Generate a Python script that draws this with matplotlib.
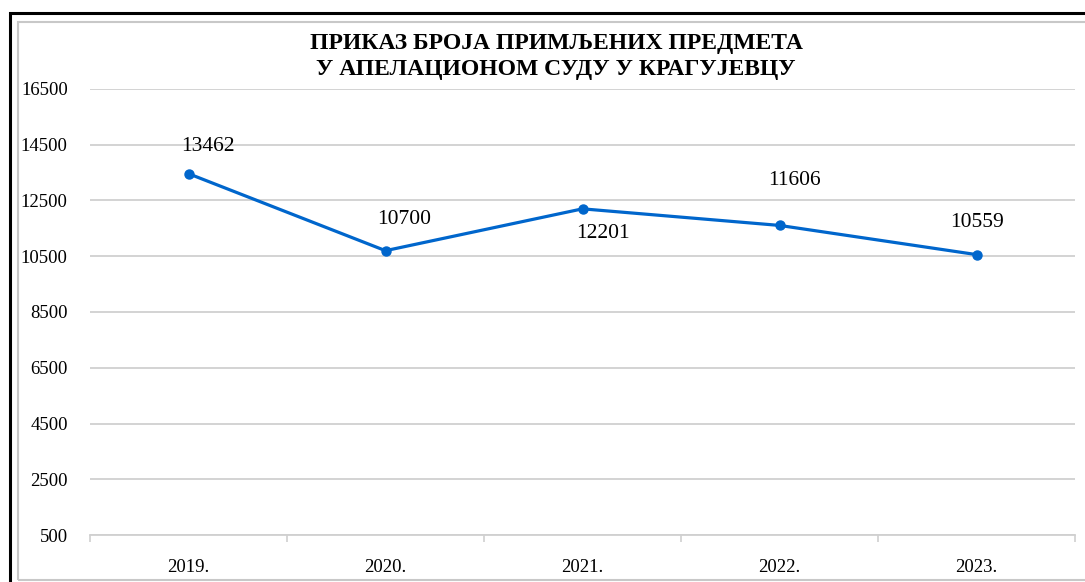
import matplotlib
matplotlib.use("Agg")
import matplotlib.pyplot as plt
from matplotlib.patches import Rectangle
from matplotlib.ticker import FixedLocator

years = ["2019.", "2020.", "2021.", "2022.", "2023."]
values = [13462, 10700, 12201, 11606, 10559]
y_ticks = [500, 2500, 4500, 6500, 8500, 10500, 12500, 14500, 16500]
title_lines = ["ПРИКАЗ БРОЈА ПРИМЉЕНИХ ПРЕДМЕТА", "У АПЕЛАЦИОНОМ СУДУ У КРАГУЈЕВЦУ"]

# label offsets in pixels (dx, dy) relative to each point
label_offsets = [(19, 27), (19, 31), (20, -25), (15, 45), (1, 32)]

W, H = 1085, 582
fig = plt.figure(figsize=(W / 100, H / 100), dpi=100)
fig.patch.set_facecolor("white")

serif = ["Liberation Serif", "DejaVu Serif"]
line_color = "#0066CC"
grid_color = "#D0D0D0"

# frames
fig.add_artist(Rectangle((9.5 / W, -0.1), 1.2, (H - 12.5) / H + 0.1, transform=fig.transFigure,
                         fill=False, edgecolor="black", linewidth=2.2))
fig.add_artist(Rectangle((17.5 / W, (H - 579.5) / H), 1.2, (579.5 - 21.5) / H, transform=fig.transFigure,
                         fill=False, edgecolor="#C8C8C8", linewidth=1.5))

ax = fig.add_axes([90 / W, (H - 535) / H, (1075 - 90) / W, (535 - 89) / H])
x = list(range(len(years)))
ax.plot(x, values, color=line_color, linewidth=2.3, marker="o", markersize=6.5, zorder=3)

ax.set_xlim(-0.5, len(years) - 0.5)
ax.set_ylim(y_ticks[0], y_ticks[-1])
ax.set_yticks(y_ticks)
ax.set_yticklabels([str(v) for v in y_ticks], fontfamily=serif, fontsize=13.5)
ax.set_xticks(x)
ax.set_xticklabels(years, fontfamily=serif, fontsize=13.5)
ax.xaxis.set_minor_locator(FixedLocator([i - 0.5 for i in range(len(years) + 1)]))
ax.tick_params(axis="x", which="major", length=0, pad=17)
ax.tick_params(axis="x", which="minor", length=5, width=1.2, color=grid_color, direction="out")
ax.tick_params(axis="y", length=0, pad=16)

for s in ["top", "right", "left"]:
    ax.spines[s].set_visible(False)
ax.spines["bottom"].set_color(grid_color)
ax.spines["bottom"].set_linewidth(1.3)
ax.set_axisbelow(True)
ax.yaxis.grid(True, color=grid_color, linewidth=1.3)

for xi, v, (dx, dy) in zip(x, values, label_offsets):
    ax.annotate(str(v), (xi, v), xytext=(dx, dy), textcoords="offset pixels",
                ha="center", va="center", fontfamily=serif, fontsize=15.5, color="black")

fig.text(556 / W, 1 - 44 / H, title_lines[0], ha="center", va="center",
         fontfamily=serif, fontsize=17, fontweight="bold")
fig.text(556 / W, 1 - 70 / H, title_lines[1], ha="center", va="center",
         fontfamily=serif, fontsize=17, fontweight="bold")

fig.savefig("out.png", dpi=100, facecolor="white")
